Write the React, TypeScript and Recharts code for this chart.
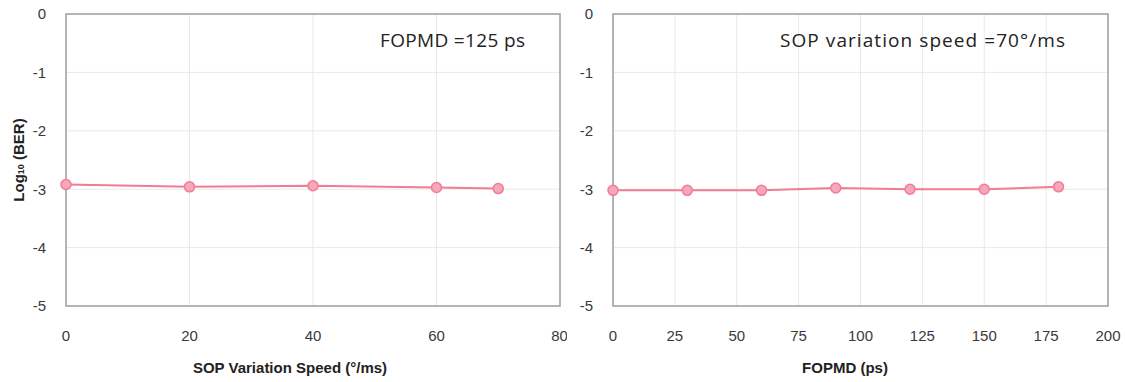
import React from 'react';
import {
  LineChart,
  Line,
  XAxis,
  YAxis,
  CartesianGrid,
  ReferenceArea,
} from 'recharts';

// data
const sopSpeeds = [0, 20, 40, 60, 70];
const berVsSpeed = [-2.92, -2.96, -2.94, -2.97, -2.99];

const fopmdValues = [0, 30, 60, 90, 120, 150, 180];
const berVsFopmd = [-3.02, -3.02, -3.02, -2.98, -3.0, -3.0, -2.96];

const yTicks = [0, -1, -2, -3, -4, -5];
const speedTicks = [0, 20, 40, 60, 80];
const fopmdTicks = [0, 25, 50, 75, 100, 125, 150, 175, 200];

const LINE = '#F07C95';
const GRID = '#E8E8E8';
const BORDER = '#A0A0A0';
const TICK = { fill: '#3a3a3a', fontSize: 15, fontFamily: 'Liberation Sans, Arial, sans-serif' };
const AXIS_LABEL = {
  fill: '#222',
  fontSize: 15,
  fontWeight: 'bold' as const,
  fontFamily: 'Liberation Sans, Arial, sans-serif',
};
const NOTE = { fontSize: 19, fill: '#222', fontFamily: 'Open Sans, Liberation Sans, sans-serif' };

const speedData = sopSpeeds.map((x, i) => ({ x, ber: berVsSpeed[i] }));
const fopmdData = fopmdValues.map((x, i) => ({ x, ber: berVsFopmd[i] }));

function Dot(props: any) {
  const { cx, cy } = props;
  return <circle cx={cx} cy={cy} r={5} fill="#F7A7BA" stroke={LINE} strokeWidth={1.5} />;
}

export default function App() {
  return (
    <div style={{ position: 'absolute', left: 0, top: 0, width: 1125, height: 382, background: '#fff' }}>
      {/* left panel */}
      <div style={{ position: 'absolute', left: 0, top: 0 }}>
        <LineChart width={567} height={382} data={speedData} margin={{ top: 14, right: 7, bottom: 7, left: 26 }}>
          <CartesianGrid stroke={GRID} />
          <XAxis
            type="number"
            dataKey="x"
            domain={[0, 80]}
            ticks={speedTicks}
            tick={TICK}
            tickLine={false}
            axisLine={false}
            tickMargin={18}
            height={69}
          />
          <YAxis
            type="number"
            domain={[-5, 0]}
            ticks={yTicks}
            tick={TICK}
            tickLine={false}
            axisLine={false}
            tickMargin={14}
            width={40}
          />
          <ReferenceArea x1={0} x2={80} y1={-5} y2={0} fill="none" stroke={BORDER} strokeWidth={1.5} />
          <Line
            dataKey="ber"
            stroke={LINE}
            strokeWidth={2}
            dot={<Dot />}
            isAnimationActive={false}
          />
          <text x={380} y={47} style={NOTE} textLength={145} lengthAdjust="spacing">FOPMD =125 ps</text>
          <text x={290} y={373} textAnchor="middle" style={AXIS_LABEL}>SOP Variation Speed (°/ms)</text>
          <text transform="translate(24,160) rotate(-90)" textAnchor="middle" style={AXIS_LABEL}>
            Log<tspan fontSize={9}>10</tspan> (BER)
          </text>
        </LineChart>
      </div>
      {/* right panel */}
      <div style={{ position: 'absolute', left: 570, top: 0 }}>
        <LineChart width={555} height={382} data={fopmdData} margin={{ top: 14, right: 17, bottom: 7, left: 0 }}>
          <CartesianGrid stroke={GRID} />
          <XAxis
            type="number"
            dataKey="x"
            domain={[0, 200]}
            ticks={fopmdTicks}
            tick={TICK}
            tickLine={false}
            axisLine={false}
            tickMargin={18}
            height={69}
          />
          <YAxis
            type="number"
            domain={[-5, 0]}
            ticks={yTicks}
            tick={TICK}
            tickLine={false}
            axisLine={false}
            tickMargin={14}
            width={43}
          />
          <ReferenceArea x1={0} x2={200} y1={-5} y2={0} fill="none" stroke={BORDER} strokeWidth={1.5} />
          <Line
            dataKey="ber"
            stroke={LINE}
            strokeWidth={2}
            dot={<Dot />}
            isAnimationActive={false}
          />
          <text x={210} y={47} style={NOTE} textLength={285} lengthAdjust="spacing">SOP variation speed =70°/ms</text>
          <text x={275} y={373} textAnchor="middle" style={AXIS_LABEL}>FOPMD (ps)</text>
        </LineChart>
      </div>
    </div>
  );
}
